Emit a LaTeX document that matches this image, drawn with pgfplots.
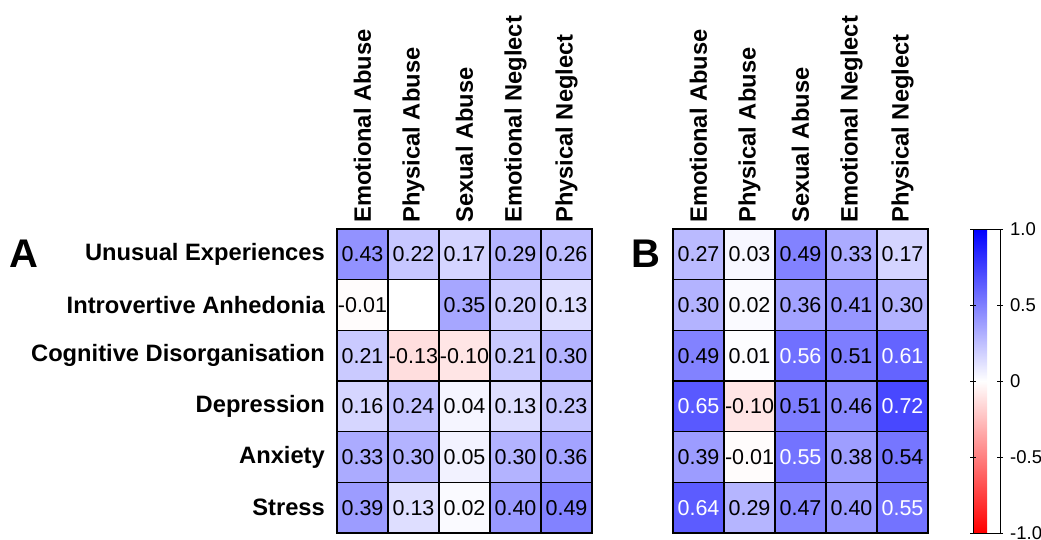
\documentclass[border=0pt]{standalone}
\usepackage{pgfplots}
\pgfplotsset{compat=1.18}
\usepackage{pgfplotstable}
\usepackage{fontspec}
\setmainfont{Liberation Sans}
\newcommand{\labfont}{\fontsize{23.7}{23.7}\selectfont\bfseries}
\newcommand{\numfont}{\fontsize{21.5}{21.5}\selectfont}
\newcommand{\cbfont}{\fontsize{18.5}{18.5}\selectfont}

% x = CTQ subscale (0..4), y = outcome (0..5), v = correlation
\pgfplotstableread{
x y v
0 0 0.43
1 0 0.22
2 0 0.17
3 0 0.29
4 0 0.26
0 1 -0.01
1 1 0.00
2 1 0.35
3 1 0.20
4 1 0.13
0 2 0.21
1 2 -0.13
2 2 -0.10
3 2 0.21
4 2 0.30
0 3 0.16
1 3 0.24
2 3 0.04
3 3 0.13
4 3 0.23
0 4 0.33
1 4 0.30
2 4 0.05
3 4 0.30
4 4 0.36
0 5 0.39
1 5 0.13
2 5 0.02
3 5 0.40
4 5 0.49
}\dataA

\pgfplotstableread{
x y v
0 0 0.27
1 0 0.03
2 0 0.49
3 0 0.33
4 0 0.17
0 1 0.30
1 1 0.02
2 1 0.36
3 1 0.41
4 1 0.30
0 2 0.49
1 2 0.01
2 2 0.56
3 2 0.51
4 2 0.61
0 3 0.65
1 3 -0.10
2 3 0.51
3 3 0.46
4 3 0.72
0 4 0.39
1 4 -0.01
2 4 0.55
3 4 0.38
4 4 0.54
0 5 0.64
1 5 0.29
2 5 0.47
3 5 0.40
4 5 0.55
}\dataB

\pgfplotsset{
  hm/.style={
    scale only axis, width=255pt, height=304pt,
    xmin=-0.5, xmax=4.5, ymin=-0.5, ymax=5.5, y dir=reverse,
    xtick={0,...,4}, ytick={0,...,5},
    xticklabels={Emotional Abuse,Physical Abuse,Sexual Abuse,Emotional Neglect,Physical Neglect},
    xticklabel pos=upper,
    major tick length=0pt, minor tick length=0pt,
    x tick label style={rotate=90, anchor=west, font=\labfont, inner sep=0pt},
    xticklabel shift=6pt,
    minor xtick={0.5,1.5,2.5,3.5}, minor ytick={0.5,1.5,2.5,3.5,4.5},
    xminorgrids, yminorgrids,
    minor grid style={black, line width=1.4pt},
    axis on top, axis line style={black, line width=1.4pt},
    colormap={rwb}{rgb255=(255,0,0) rgb255=(255,255,255) rgb255=(0,0,255)},
    point meta min=-1, point meta max=1,
  },
  lab/.style={
    only marks, mark=*, mark size=0pt, mark options={draw=none, fill=none},
    point meta=explicit symbolic,
    nodes near coords,
    every node near coord/.append style={anchor=center, font=\numfont, inner sep=0pt, text=#1},
  },
}

\begin{document}
\begin{tikzpicture}
\path[use as bounding box] (0,0) rectangle (1041pt,540pt);

\begin{axis}[hm, at={(337pt,7pt)}, anchor=south west,
  yticklabels={Unusual Experiences,Introvertive Anhedonia,Cognitive Disorganisation,Depression,Anxiety,Stress},
  y tick label style={font=\labfont, anchor=east, inner sep=0pt},
  yticklabel shift=12pt]
\addplot[matrix plot*, mesh/cols=5, point meta=explicit] table[meta=v]{\dataA};
\addplot[lab=black, skip coords between index={6}{7}] table[meta=v]{\dataA};
\end{axis}

\begin{axis}[hm, at={(673pt,7pt)}, anchor=south west,
  yticklabels={},
  colorbar,
  colorbar shift/.style={},
  colorbar style={
    at={(parent axis.north east)}, anchor=north west, xshift=45pt,
    scale only axis, width=27pt, height=304pt,
    ytick={-1,-0.5,0,0.5,1},
    yticklabels={-1.0,-0.5,0,0.5,1.0},
    yticklabel style={font=\cbfont, inner sep=0pt},
    yticklabel shift=7pt,
    tick align=center, major tick length=6pt,
    ytick pos=both, yticklabel pos=right,
    axis line style={black, line width=1pt},
    major tick style={black, line width=1pt},
  }]
\addplot[matrix plot*, mesh/cols=5, point meta=explicit] table[meta=v]{\dataB};
\addplot[lab=black,
  skip coords between index={12}{13}, skip coords between index={14}{16},
  skip coords between index={19}{20}, skip coords between index={22}{23},
  skip coords between index={25}{26}, skip coords between index={29}{30}]
  table[meta=v]{\dataB};
\addplot[lab=white,
  skip coords between index={0}{12}, skip coords between index={13}{14},
  skip coords between index={16}{19}, skip coords between index={20}{22},
  skip coords between index={23}{25}, skip coords between index={26}{29}]
  table[meta=v]{\dataB};
\end{axis}

\node[font=\fontsize{40}{40}\selectfont\bfseries] at (24pt,286pt) {A};
\node[font=\fontsize{40}{40}\selectfont\bfseries] at (646pt,286pt) {B};
\end{tikzpicture}
\end{document}
